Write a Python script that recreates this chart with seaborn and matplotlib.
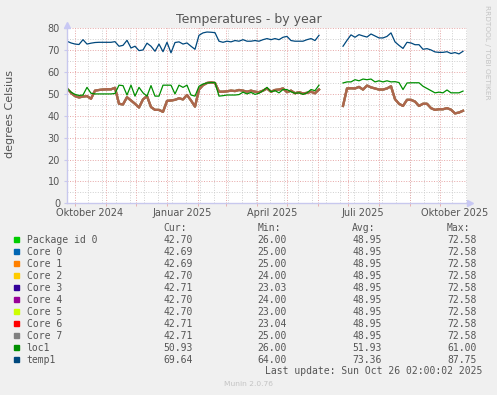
import numpy as np
import pandas as pd
import seaborn as sns
import matplotlib.pyplot as plt
from matplotlib.patches import Rectangle

start = pd.Timestamp('2024-09-23')
end = start + pd.Timedelta(days=400)
sample_dates = pd.date_range(start, periods=100, freq='4D')

nan = np.nan
temp1 = [74.1, 73.3, 72.8, 72.6, 74.8, 72.8, 73.2, 73.5, 73.6, 73.6,
         73.6, 73.6, 73.9, 71.8, 72.2, 74.5, 71.0, 71.8, 69.8, 70.1,
         73.2, 71.8, 69.5, 72.8, 69.3, 73.6, 68.8, 73.5, 73.8, 72.8,
         73.3, 71.8, 70.4, 76.8, 77.9, 78.3, 78.2, 78.0, 74.1, 73.6,
         74.1, 73.8, 74.4, 74.1, 74.8, 74.1, 74.1, 74.4, 74.1, 74.8,
         75.3, 74.8, 75.3, 74.8, 75.9, 76.3, 74.4, 74.1, 74.1, 74.1,
         74.8, 75.3, 74.4, 76.8, nan, nan, nan, nan, nan, 71.8,
         74.5, 77.0, 75.9, 77.1, 76.5, 76.0, 77.4, 76.5, 75.6, 75.6,
         76.3, 77.9, 73.8, 72.2, 70.8, 73.6, 73.3, 72.5, 72.5, 70.4,
         70.7, 70.1, 69.2, 69.0, 69.0, 69.3, 68.5, 68.9, 68.3, 69.5]

loc1 = [52.6, 50.8, 49.8, 49.3, 49.5, 53.0, 50.3, 50.0, 50.0, 50.0,
        50.0, 50.0, 50.2, 54.0, 53.8, 49.5, 54.0, 49.0, 53.0, 50.5,
        49.0, 53.8, 49.0, 49.0, 54.0, 54.0, 54.0, 50.0, 54.0, 53.0,
        54.0, 49.5, 49.0, 53.5, 54.5, 55.0, 55.2, 55.2, 49.0, 49.2,
        49.5, 49.5, 49.5, 49.7, 50.8, 50.0, 50.7, 49.8, 50.3, 51.5,
        53.0, 51.0, 51.5, 50.5, 52.0, 52.0, 51.0, 50.3, 50.5, 49.8,
        50.5, 52.0, 51.5, 54.0, nan, nan, nan, nan, nan, 55.0,
        55.5, 55.5, 56.5, 56.0, 56.8, 56.5, 56.8, 55.5, 56.0, 55.5,
        56.0, 55.5, 55.6, 55.2, 52.0, 55.0, 55.1, 55.1, 55.1, 53.5,
        52.5, 51.5, 50.5, 50.8, 50.5, 51.8, 50.5, 50.5, 50.5, 51.3]

# package + all cores overlap into one line on the graph
cores = [52.5, 50.5, 49.0, 48.4, 48.8, 49.0, 47.8, 51.5, 51.8, 52.0,
         52.1, 52.1, 52.8, 45.5, 45.2, 48.5, 47.0, 45.5, 43.8, 47.5,
         49.0, 44.0, 42.7, 42.7, 41.8, 46.8, 47.0, 47.3, 48.0, 47.5,
         49.5, 47.0, 44.2, 52.0, 54.0, 55.0, 55.3, 55.0, 51.0, 51.0,
         51.2, 51.5, 51.3, 51.8, 51.5, 51.0, 51.5, 51.0, 50.8, 51.5,
         52.5, 51.0, 51.8, 52.0, 52.5, 50.8, 51.5, 50.3, 50.8, 50.2,
         50.5, 51.0, 50.3, 52.0, nan, nan, nan, nan, nan, 44.5,
         52.5, 52.6, 52.5, 53.2, 52.0, 53.8, 53.0, 52.5, 52.0, 52.0,
         52.5, 53.5, 47.6, 45.5, 44.5, 47.3, 47.3, 46.5, 44.5, 45.5,
         45.5, 43.5, 42.7, 43.0, 43.0, 43.5, 42.8, 41.1, 41.5, 42.3]

series_names = ['Package id 0', 'Core 0', 'Core 1', 'Core 2', 'Core 3', 'Core 4',
                'Core 5', 'Core 6', 'Core 7', 'loc1', 'temp1']
series_colors = ['#00cc00', '#0066b3', '#ff8000', '#ffcc00', '#330099', '#990099',
                 '#ccff00', '#ff0000', '#808080', '#008f00', '#00487d']
cur_vals = [42.70, 42.69, 42.69, 42.70, 42.71, 42.70, 42.70, 42.71, 42.71, 50.93, 69.64]
min_vals = [26.00, 25.00, 25.00, 24.00, 23.03, 24.00, 23.00, 23.04, 25.00, 26.00, 64.00]
avg_vals = [48.95, 48.95, 48.95, 48.95, 48.95, 48.95, 48.95, 48.95, 48.95, 51.93, 73.36]
max_vals = [72.58, 72.58, 72.58, 72.58, 72.58, 72.58, 72.58, 72.58, 72.58, 61.00, 87.75]

month_labels = ['Oktober 2024', 'Januar 2025', 'April 2025', 'Juli 2025', 'Oktober 2025']
label_dates = pd.to_datetime(['2024-10-16', '2025-01-16', '2025-04-16', '2025-07-16', '2025-10-16'])


def long_frame(name, values):
    s = pd.Series(values, dtype=float)
    seg = s.isna().cumsum()
    df = pd.DataFrame({'date': sample_dates, 'temp': s, 'segment': seg, 'series': name})
    return df.dropna()


core_df = pd.concat([long_frame(n, cores) for n in series_names[:9]])
other_df = pd.concat([long_frame('loc1', loc1), long_frame('temp1', temp1)])
palette = dict(zip(series_names, series_colors))

W, H = 497, 395
fig = plt.figure(figsize=(W / 100, H / 100), dpi=100, facecolor='#f0f0f0')
ax = fig.add_axes([67 / W, 1 - 203.3 / H, 400 / W, 175 / H])
ax.set_facecolor('white')

# grid
red = '#e6a6a6'
gray = '#cfcfcf'
dots = (0, (1, 1.6))
for v in range(5, 80, 10):
    ax.axhline(v, color=gray, lw=0.7, ls=dots, zorder=0.5)
for v in range(10, 81, 10):
    ax.axhline(v, color=red, lw=0.7, ls=dots, zorder=0.6)
month_starts = pd.date_range('2024-10-01', '2025-10-01', freq='MS')
for d in pd.date_range('2024-10-14', end, freq='14D'):
    ax.axvline(d, color=gray, lw=0.7, ls=dots, zorder=0.5)
for d in month_starts:
    ax.axvline(d, color=red, lw=0.7, ls=dots, zorder=0.6)

sns.lineplot(data=core_df, x='date', y='temp', hue='series', units='segment',
             estimator=None, hue_order=series_names[:9], palette=palette,
             alpha=0.35, linewidth=1.6, legend=False, sort=False, ax=ax)
sns.lineplot(data=other_df, x='date', y='temp', hue='series', units='segment',
             estimator=None, hue_order=['loc1', 'temp1'], palette=palette,
             linewidth=0.9, legend=False, sort=False, ax=ax)

ax.set_xlim(start, end)
ax.set_ylim(0, 80)
ax.set_yticks(range(0, 81, 10))
ax.set_xticks(label_dates, labels=month_labels)
ax.set_xticks(month_starts, minor=True)
ax.tick_params(axis='x', which='major', length=0, pad=3.5, labelsize=7, labelcolor='#555555')
ax.tick_params(axis='x', which='minor', length=2, color=red)
ax.tick_params(axis='y', length=2, pad=3, labelsize=7, labelcolor='#555555', color='#c8c8ee')
ax.set_xlabel('')
ax.set_ylabel('')
for side in ['top', 'right']:
    ax.spines[side].set_visible(False)
for side in ['left', 'bottom']:
    ax.spines[side].set_color('#c8c8ee')
    ax.spines[side].set_linewidth(1)
ax.plot([0], [1.02], marker='^', ms=4, color='#c8c8f4', transform=ax.transAxes, clip_on=False)
ax.plot([1.008], [0], marker='>', ms=4, color='#c8c8f4', transform=ax.transAxes, clip_on=False)

# titles and side texts
fig.text(0.5, 1 - 19 / H, 'Temperatures - by year', ha='center', va='center',
         fontsize=9, color='#555555')
fig.text(10 / W, 1 - 114 / H, 'degrees Celsius', rotation=90, ha='center', va='center',
         fontsize=8, color='#555555')
fig.text(487 / W, 1 - 52 / H, 'RRDTOOL / TOBI OETIKER', rotation=270, ha='center',
         va='center', fontsize=5.3, color='#c4c4c4')

# munin legend table
mono = dict(family='DejaVu Sans Mono', fontsize=7, color='#555555', va='center')
cols_x = [163.3, 257.7, 352.3, 447]
for x, head in zip(cols_x, ['Cur:', 'Min:', 'Avg:', 'Max:']):
    fig.text(x / W, 1 - 228.3 / H, head, ha='left', **mono)
for i, name in enumerate(series_names):
    y = 239.7 + 12 * i
    fig.patches.append(Rectangle((14 / W, 1 - (y + 2.7) / H), 5.3 / W, 5.3 / H,
                                 transform=fig.transFigure, color=series_colors[i]))
    fig.text(26.7 / W, 1 - y / H, name, ha='left', **mono)
    for x, vals in zip(cols_x, [cur_vals, min_vals, avg_vals, max_vals]):
        fig.text(x / W, 1 - y / H, f'{vals[i]:.2f}', ha='left', **mono)
fig.text(482.3 / W, 1 - 371.3 / H, 'Last update: Sun Oct 26 02:00:02 2025', ha='right', **mono)
fig.text(248 / W, 1 - 384.3 / H, 'Munin 2.0.76', ha='center', va='center',
         fontsize=5.4, color='#c4c4c4')

fig.savefig('out.png', dpi=100, facecolor=fig.get_facecolor())
